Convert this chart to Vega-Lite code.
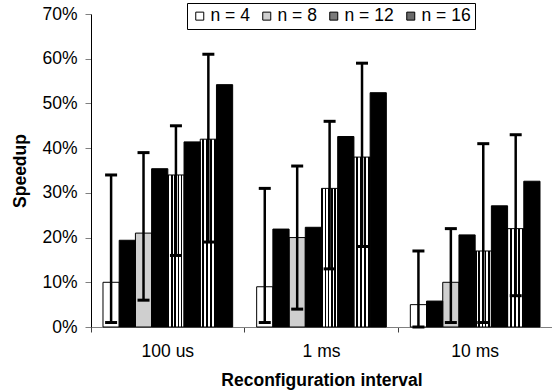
{
  "$schema": "https://vega.github.io/schema/vega-lite/v6.json",
  "width": 461,
  "height": 313,
  "autosize": {"type": "none"},
  "padding": {"left": 91, "top": 14, "right": 0, "bottom": 65},
  "background": "white",
  "config": {
    "font": "Liberation Sans",
    "view": {"stroke": null},
    "axis": {"grid": false, "labelFont": "Liberation Sans", "labelFontSize": 17.5, "labelColor": "black", "titleFont": "Liberation Sans", "titleFontSize": 17.5, "titleFontWeight": "bold", "titleColor": "black"},
    "legend": {"labelFont": "Liberation Sans", "labelFontSize": 17.5, "labelColor": "black"}
  },
  "data": {
    "values": [
      {"interval": "100 us", "slot": "p4", "n": "n = 4", "kind": "p", "v": 10, "lo": 1, "hi": 34},
      {"interval": "100 us", "slot": "b4", "n": "n = 4", "kind": "b", "v": 19.4},
      {"interval": "100 us", "slot": "p8", "n": "n = 8", "kind": "p", "v": 21, "lo": 6, "hi": 39},
      {"interval": "100 us", "slot": "b8", "n": "n = 8", "kind": "b", "v": 35.4},
      {"interval": "100 us", "slot": "p12", "n": "n = 12", "kind": "p", "v": 34, "lo": 16, "hi": 45},
      {"interval": "100 us", "slot": "b12", "n": "n = 12", "kind": "b", "v": 41.4},
      {"interval": "100 us", "slot": "p16", "n": "n = 16", "kind": "p", "v": 42, "lo": 19, "hi": 61},
      {"interval": "100 us", "slot": "b16", "n": "n = 16", "kind": "b", "v": 54.2},
      {"interval": "1 ms", "slot": "p4", "n": "n = 4", "kind": "p", "v": 9, "lo": 1, "hi": 31},
      {"interval": "1 ms", "slot": "b4", "n": "n = 4", "kind": "b", "v": 21.9},
      {"interval": "1 ms", "slot": "p8", "n": "n = 8", "kind": "p", "v": 20, "lo": 4, "hi": 36},
      {"interval": "1 ms", "slot": "b8", "n": "n = 8", "kind": "b", "v": 22.3},
      {"interval": "1 ms", "slot": "p12", "n": "n = 12", "kind": "p", "v": 31, "lo": 13, "hi": 46},
      {"interval": "1 ms", "slot": "b12", "n": "n = 12", "kind": "b", "v": 42.6},
      {"interval": "1 ms", "slot": "p16", "n": "n = 16", "kind": "p", "v": 38, "lo": 18, "hi": 59},
      {"interval": "1 ms", "slot": "b16", "n": "n = 16", "kind": "b", "v": 52.4},
      {"interval": "10 ms", "slot": "p4", "n": "n = 4", "kind": "p", "v": 5, "lo": 0, "hi": 17},
      {"interval": "10 ms", "slot": "b4", "n": "n = 4", "kind": "b", "v": 5.8},
      {"interval": "10 ms", "slot": "p8", "n": "n = 8", "kind": "p", "v": 10, "lo": 1, "hi": 22},
      {"interval": "10 ms", "slot": "b8", "n": "n = 8", "kind": "b", "v": 20.6},
      {"interval": "10 ms", "slot": "p12", "n": "n = 12", "kind": "p", "v": 17, "lo": 1, "hi": 41},
      {"interval": "10 ms", "slot": "b12", "n": "n = 12", "kind": "b", "v": 27.1},
      {"interval": "10 ms", "slot": "p16", "n": "n = 16", "kind": "p", "v": 22, "lo": 7, "hi": 43},
      {"interval": "10 ms", "slot": "b16", "n": "n = 16", "kind": "b", "v": 32.6}
    ]
  },
  "encoding": {
    "x": {
      "field": "interval", "type": "nominal",
      "scale": {"domain": ["100 us", "1 ms", "10 ms"], "paddingInner": 0, "paddingOuter": 0},
      "axis": {"title": "Reconfiguration interval", "labelAngle": 0, "bandPosition": 0, "domainColor": "#808080", "domainWidth": 1, "tickColor": "#404040", "tickSize": 5, "labelPadding": 10, "titlePadding": 12}
    },
    "xOffset": {
      "field": "slot", "type": "nominal",
      "scale": {"domain": ["p4", "b4", "p8", "b8", "p12", "b12", "p16", "b16"], "paddingInner": 0, "paddingOuter": 0.74}
    }
  },
  "layer": [
    {
      "transform": [{"filter": "datum.kind == 'p'"}],
      "mark": {"type": "bar", "stroke": "black", "strokeWidth": 1},
      "encoding": {
        "y": {
          "field": "v", "type": "quantitative",
          "scale": {"domain": [0, 70], "nice": false},
          "axis": {"title": "Speedup", "values": [0, 10, 20, 30, 40, 50, 60, 70], "labelExpr": "datum.value + '%'", "domainColor": "black", "domainWidth": 1, "tickColor": "#808080", "tickSize": 6, "labelPadding": 8, "titlePadding": 12}
        },
        "fill": {
          "field": "n", "type": "nominal",
          "scale": {
            "domain": ["n = 4", "n = 8", "n = 12", "n = 16"],
            "range": ["#ffffff", "#cfcfcf", "#7a7a7a", "#6a6a6a"]
          },
          "condition": [
            {"test": "datum.n == 'n = 12'", "value": {"gradient": "linear", "x1": 0, "y1": 0, "x2": 1, "y2": 0, "stops": [
                {"offset": 0, "color": "#000000"}, {"offset": 0.09, "color": "#000000"}, {"offset": 0.09, "color": "#ffffff"}, {"offset": 0.2, "color": "#ffffff"},
                {"offset": 0.2, "color": "#000000"}, {"offset": 0.29, "color": "#000000"}, {"offset": 0.29, "color": "#ffffff"}, {"offset": 0.4, "color": "#ffffff"},
                {"offset": 0.4, "color": "#000000"}, {"offset": 0.49, "color": "#000000"}, {"offset": 0.49, "color": "#ffffff"}, {"offset": 0.6, "color": "#ffffff"},
                {"offset": 0.6, "color": "#000000"}, {"offset": 0.69, "color": "#000000"}, {"offset": 0.69, "color": "#ffffff"}, {"offset": 0.8, "color": "#ffffff"},
                {"offset": 0.8, "color": "#000000"}, {"offset": 0.89, "color": "#000000"}, {"offset": 0.89, "color": "#ffffff"}, {"offset": 1, "color": "#ffffff"}
              ]}},
            {"test": "datum.n == 'n = 16'", "value": {"gradient": "linear", "x1": 0, "y1": 0, "x2": 1, "y2": 0, "stops": [
                {"offset": 0, "color": "#ffffff"}, {"offset": 0.12, "color": "#ffffff"}, {"offset": 0.12, "color": "#000000"}, {"offset": 0.25, "color": "#000000"},
                {"offset": 0.25, "color": "#ffffff"}, {"offset": 0.37, "color": "#ffffff"}, {"offset": 0.37, "color": "#000000"}, {"offset": 0.5, "color": "#000000"},
                {"offset": 0.5, "color": "#ffffff"}, {"offset": 0.62, "color": "#ffffff"}, {"offset": 0.62, "color": "#000000"}, {"offset": 0.75, "color": "#000000"},
                {"offset": 0.75, "color": "#ffffff"}, {"offset": 0.87, "color": "#ffffff"}, {"offset": 0.87, "color": "#000000"}, {"offset": 1, "color": "#000000"}
              ]}}
          ],
          "legend": {
            "title": null, "orient": "none", "direction": "horizontal", "legendX": 96, "legendY": -11,
            "strokeColor": "black", "padding": 4, "symbolType": "square", "symbolSize": 64,
            "symbolStrokeColor": "black", "symbolStrokeWidth": 1, "labelOffset": 2, "columnPadding": 8
          }
        }
      }
    },
    {
      "transform": [{"filter": "datum.kind == 'b'"}],
      "mark": {"type": "bar", "fill": "black", "stroke": "black", "strokeWidth": 1},
      "encoding": {"y": {"field": "v", "type": "quantitative"}}
    },
    {
      "transform": [{"filter": "datum.kind == 'p'"}],
      "mark": {"type": "rule", "color": "black", "strokeWidth": 2.5},
      "encoding": {"y": {"field": "lo", "type": "quantitative"}, "y2": {"field": "hi"}}
    },
    {
      "transform": [{"filter": "datum.kind == 'p'"}],
      "mark": {"type": "tick", "color": "black", "size": 12, "thickness": 3, "opacity": 1},
      "encoding": {"y": {"field": "lo", "type": "quantitative"}}
    },
    {
      "transform": [{"filter": "datum.kind == 'p'"}],
      "mark": {"type": "tick", "color": "black", "size": 12, "thickness": 3, "opacity": 1},
      "encoding": {"y": {"field": "hi", "type": "quantitative"}}
    }
  ]
}
